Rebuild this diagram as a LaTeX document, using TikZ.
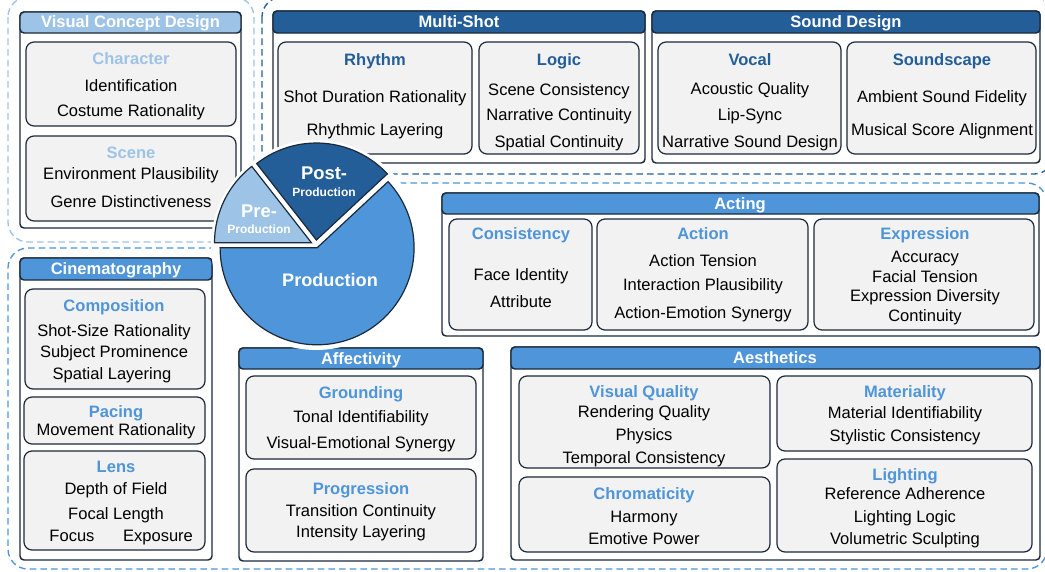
\documentclass[tikz,border=0pt]{standalone}
\usepackage{fontspec}
\setmainfont{Liberation Sans}
\definecolor{navy}{RGB}{27,42,58}
\definecolor{lightblue}{RGB}{157,195,230}
\definecolor{midblue}{RGB}{78,149,217}
\definecolor{darkblue}{RGB}{36,94,152}
\definecolor{boxgrey}{RGB}{242,242,242}
\tikzset{every picture/.style={line width=0.75pt}}
\newcommand{\bodysize}{\fontsize{12.4}{14}\selectfont}
\def \pieX {316}
\def \pieY {245}
\def \pieR {97}

\begin{document}
\begin{tikzpicture}[x=0.75pt,y=0.75pt,yscale=-1,xscale=1,
  panelbox/.style={draw=navy,fill=white,line width=1.1pt,rounded corners=3},
  subbox/.style={draw=navy,fill=boxgrey,line width=0.9pt,rounded corners=6},
  hdr/.style={draw=navy,line width=1.1pt,rounded corners=3},
  htext/.style={inner sep=0pt,font=\bodysize\bfseries,text=white,text height=10pt,text depth=2pt},
  ttl/.style={inner sep=0pt,font=\bodysize\bfseries,text height=10pt,text depth=2pt},
  item/.style={inner sep=0pt,font=\bodysize,text=black,text height=10pt,text depth=2pt},
  region/.style={line width=1pt,dash pattern=on 5pt off 3pt,rounded corners=15},
  slice/.style={draw=navy,line width=0.9pt},
  pietext/.style={inner sep=0pt,text=white,font=\bfseries}]

\useasboundingbox (0,0) rectangle (1045,571);

% Dashed regions
\draw [region,draw=lightblue] (8,-3) rectangle (254,242);
\draw [region,draw=darkblue] (262,-3) rectangle (1054,174);
\draw [region,draw=midblue] (300,248) -- (8,248) -- (8,569) -- (1047,569) -- (1047,183) -- (300,183) -- cycle;

%Panel: Visual Concept Design
\draw [panelbox] (20,12) rectangle (241,228);
\draw [hdr,fill=lightblue] (20,12) rectangle (241,33);
\node [htext] (vcd) at (130.5,22.5) {Visual Concept Design};
\draw [subbox] (26,42) rectangle (236,126);
\node [ttl,text=lightblue] (chr) at (131,59) {Character};
\node [item] (chr1) at (131,86) {Identification};
\node [item] (chr2) at (131,111) {Costume Rationality};
\draw [subbox] (26,136) rectangle (236,221);
\node [ttl,text=lightblue] (scn) at (131,153) {Scene};
\node [item] (scn1) at (131,174) {Environment Plausibility};
\node [item] (scn2) at (131,202) {Genre Distinctiveness};

%Panel: Multi-Shot
\draw [panelbox] (273,11) rectangle (645,163);
\draw [hdr,fill=darkblue] (273,11) rectangle (645,33);
\node [htext] (msh) at (459,22) {Multi-Shot};
\draw [subbox] (278,42) rectangle (472,154);
\node [ttl,text=darkblue] (rhy) at (375,60) {Rhythm};
\node [item] (rhy1) at (375,97) {Shot Duration Rationality};
\node [item] (rhy2) at (375,130) {Rhythmic Layering};
\draw [subbox] (479,42) rectangle (639,154);
\node [ttl,text=darkblue] (lgc) at (559,60) {Logic};
\node [item] (lgc1) at (559,90) {Scene Consistency};
\node [item] (lgc2) at (559,115) {Narrative Continuity};
\node [item] (lgc3) at (559,142) {Spatial Continuity};

%Panel: Sound Design
\draw [panelbox] (652,11) rectangle (1040,163);
\draw [hdr,fill=darkblue] (652,11) rectangle (1040,33);
\node [htext] (snd) at (846,22) {Sound Design};
\draw [subbox] (658,42) rectangle (841,154);
\node [ttl,text=darkblue] (voc) at (750,60) {Vocal};
\node [item] (voc1) at (750,89) {Acoustic Quality};
\node [item] (voc2) at (750,115) {Lip-Sync};
\node [item] (voc3) at (750,142) {Narrative Sound Design};
\draw [subbox] (847,42) rectangle (1036,154);
\node [ttl,text=darkblue] (scp) at (942,60) {Soundscape};
\node [item] (scp1) at (942,97) {Ambient Sound Fidelity};
\node [item] (scp2) at (942,130) {Musical Score Alignment};

%Panel: Acting
\draw [panelbox] (442,193) rectangle (1039,336);
\draw [hdr,fill=midblue] (442,193) rectangle (1039,214);
\node [htext] (act) at (740,204) {Acting};
\draw [subbox] (449,219) rectangle (592,330);
\node [ttl,text=midblue] (cns) at (521,234) {Consistency};
\node [item] (cns1) at (521,275) {Face Identity};
\node [item] (cns2) at (521,302) {Attribute};
\draw [subbox] (597,219) rectangle (808,330);
\node [ttl,text=midblue] (acn) at (703,234) {Action};
\node [item] (acn1) at (703,261) {Action Tension};
\node [item] (acn2) at (703,285) {Interaction Plausibility};
\node [item] (acn3) at (703,313) {Action-Emotion Synergy};
\draw [subbox] (814,219) rectangle (1034,330);
\node [ttl,text=midblue] (exp) at (925,234) {Expression};
\node [item] (exp1) at (925,257) {Accuracy};
\node [item] (exp2) at (925,277) {Facial Tension};
\node [item] (exp3) at (925,296) {Expression Diversity};
\node [item] (exp4) at (925,316) {Continuity};

%Panel: Cinematography
\draw [panelbox] (20,258) rectangle (212,560);
\draw [hdr,fill=midblue] (20,258) rectangle (212,280);
\node [htext] (cin) at (116,269) {Cinematography};
\draw [subbox] (25,289) rectangle (205,389);
\node [ttl,text=midblue] (cmp) at (114,306) {Composition};
\node [item] (cmp1) at (114,331) {Shot-Size Rationality};
\node [item] (cmp2) at (114,352) {Subject Prominence};
\node [item] (cmp3) at (112,374) {Spatial Layering};
\draw [subbox] (24,397) rectangle (205,444);
\node [ttl,text=midblue] (pac) at (116,412) {Pacing};
\node [item] (pac1) at (116,430) {Movement Rationality};
\draw [subbox] (24,451) rectangle (205,550);
\node [ttl,text=midblue] (lns) at (116,467) {Lens};
\node [item] (lns1) at (116,489) {Depth of Field};
\node [item] (lns2) at (116,514) {Focal Length};
\node [item] (lns3) at (72,536) {Focus};
\node [item] (lns4) at (158,536) {Exposure};

%Panel: Affectivity
\draw [panelbox] (239,348) rectangle (483,561);
\draw [hdr,fill=midblue] (239,348) rectangle (483,369);
\node [htext] (aff) at (361,359) {Affectivity};
\draw [subbox] (246,376) rectangle (476,459);
\node [ttl,text=midblue] (grd) at (361,393) {Grounding};
\node [item] (grd1) at (361,417) {Tonal Identifiability};
\node [item] (grd2) at (361,443) {Visual-Emotional Synergy};
\draw [subbox] (246,469) rectangle (476,552);
\node [ttl,text=midblue] (prg) at (361,489) {Progression};
\node [item] (prg1) at (361,511) {Transition Continuity};
\node [item] (prg2) at (361,532) {Intensity Layering};

%Panel: Aesthetics
\draw [panelbox] (511,347) rectangle (1040,560);
\draw [hdr,fill=midblue] (511,347) rectangle (1040,369);
\node [htext] (aes) at (775,358) {Aesthetics};
\draw [subbox] (519,376) rectangle (770,468);
\node [ttl,text=midblue] (vq) at (644,392) {Visual Quality};
\node [item] (vq1) at (644,412) {Rendering Quality};
\node [item] (vq2) at (644,435) {Physics};
\node [item] (vq3) at (644,458) {Temporal Consistency};
\draw [subbox] (519,477) rectangle (770,552);
\node [ttl,text=midblue] (chm) at (644,494) {Chromaticity};
\node [item] (chm1) at (644,517) {Harmony};
\node [item] (chm2) at (644,539) {Emotive Power};
\draw [subbox] (777,376) rectangle (1032,451);
\node [ttl,text=midblue] (mat) at (905,392) {Materiality};
\node [item] (mat1) at (905,413) {Material Identifiability};
\node [item] (mat2) at (905,436) {Stylistic Consistency};
\draw [subbox] (777,459) rectangle (1032,552);
\node [ttl,text=midblue] (lgt) at (905,475) {Lighting};
\node [item] (lgt1) at (905,494) {Reference Adherence};
\node [item] (lgt2) at (905,517) {Lighting Logic};
\node [item] (lgt3) at (905,539) {Volumetric Sculpting};

% Pie
\fill [white] (\pieX,\pieY) circle (105);
\draw [slice,fill=lightblue,shift={(206:5)}] (\pieX,\pieY) -- ++(180:\pieR) arc[start angle=180,end angle=232,radius=\pieR] -- cycle;
\draw [slice,fill=darkblue,shift={(274.5:5)}] (\pieX,\pieY) -- ++(232:\pieR) arc[start angle=232,end angle=317,radius=\pieR] -- cycle;
\draw [slice,fill=midblue,shift={(68.5:3)}] (\pieX,\pieY) -- ++(317:\pieR) arc[start angle=317,end angle=540,radius=\pieR] -- cycle;

% Text Node
\node [pietext,font=\fontsize{13.8}{15}\selectfont\bfseries] (pre) at (259,211) {Pre-};
\node [pietext,font=\fontsize{9}{10}\selectfont\bfseries] (pre2) at (259,229) {Production};
\node [pietext,font=\fontsize{13.8}{15}\selectfont\bfseries] (post) at (324,173) {Post-};
\node [pietext,font=\fontsize{9}{10}\selectfont\bfseries] (post2) at (324,192) {Production};
\node [pietext,font=\fontsize{13.6}{15}\selectfont\bfseries] (prod) at (330,280) {Production};

\end{tikzpicture}
\end{document}
